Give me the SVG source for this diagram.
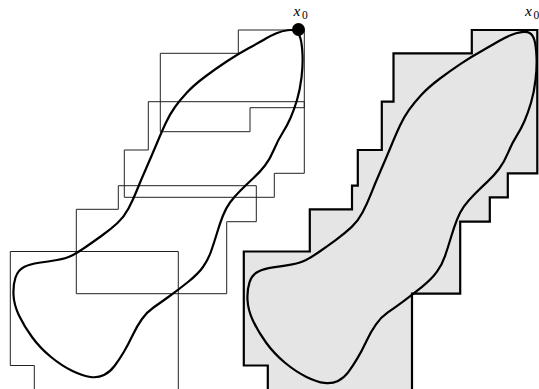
<svg xmlns="http://www.w3.org/2000/svg" xmlns:xlink="http://www.w3.org/1999/xlink" width="539" height="389" viewBox="0 0 539 389">
<style>
.box{fill:none;stroke:#222;stroke-width:1}
.union{fill:#e5e5e5;stroke:#000;stroke-width:2.2;stroke-linejoin:miter}
.curve{fill:none;stroke:#000;stroke-width:2.2;stroke-linejoin:round}
.lbl{font-family:"Liberation Serif",serif;font-style:italic;font-size:15.5px;fill:#000}
.sub{font-family:"Liberation Serif",serif;font-style:normal;font-size:11.5px;fill:#000}
</style>
<defs>
<path id="loop" d="M296,31.25 Q293,29.5 287.5,30.25 Q282,31 276.5,33.25 Q271,35.5 265.5,38.75 Q260,42 249,48 Q238,54 227,61.25 Q216,68.5 205,76.75 Q194,85 187,92.5 Q180,100 175,107 Q170,114 166,122.5 Q162,131 157,143 Q152,155 146.5,167.5 Q141,180 137,190 Q133,200 128.5,208.5 Q124,217 117.5,223 Q111,229 102,235.5 Q93,242 85,247.5 Q77,253 71.5,255.75 Q66,258.5 57,260 Q48,261.5 39,262.75 Q30,264 24,267 Q18,270 15.5,277.5 Q13,285 13.5,295 Q14,305 19,315.5 Q24,326 32,337 Q40,348 51,357 Q62,366 72.5,371 Q83,376 90.5,377 Q98,378 104,375 Q110,372 114.5,366 Q119,360 123.5,352.5 Q128,345 132.5,335.5 Q137,326 142,319 Q147,312 153.5,307.5 Q160,303 169,296.5 Q178,290 188,282 Q198,274 203,267 Q208,260 211,251.5 Q214,243 217,233 Q220,223 223,215.5 Q226,208 230,202.5 Q234,197 240.5,190.5 Q247,184 253.5,178 Q260,172 265,165.5 Q270,159 274,149.5 Q278,140 282.5,133 Q287,126 290.5,118 Q294,110 297,100 Q300,90 301.5,77.5 Q303,65 302.5,54.5 Q302,44 300.5,38.5 Q299,33 296,31.25 Z"/>
</defs>
<g id="left-figure">
<g id="cover-boxes">
<polygon id="box-a" class="box" points="238.3,30 304.3,30 304.3,107.7 250,107.7 250,131.7 160.3,131.7 160.3,53.3 238.3,53.3"/>
<polygon id="box-b" class="box" points="148.3,101.7 304.3,101.7 304.3,173.3 274.3,173.3 274.3,197.3 124.3,197.3 124.3,150 148.3,150"/>
<polygon id="box-c" class="box" points="118.3,185.7 256.3,185.7 256.3,221.7 226.7,221.7 226.7,293.7 76.3,293.7 76.3,209.3 118.3,209.3"/>
<polygon id="box-d" class="box" points="10.3,251.5 178.3,251.5 178.3,395 34.3,395 34.3,365.5 10.3,365.5"/>
</g>
<use id="curve-left" xlink:href="#loop" href="#loop" class="curve"/>
<circle id="x0-point" cx="298.5" cy="29.5" r="6.5" fill="#000"/>
<text id="x0-label-left" x="293.5" y="16" class="lbl">x<tspan class="sub" dx="1.5" dy="2.5">0</tspan></text>
</g>
<g id="right-figure">
<polygon id="union" class="union" points="471.8,30 537.3,30 537.3,173.3 507.8,173.3 507.8,197.3 489.8,197.3 489.8,221.7 460.2,221.7 460.2,293.7 412,293.7 412,395 267.8,395 267.8,365.5 243.8,365.5 243.8,251.5 309.8,251.5 309.8,209.3 352,209.3 352,185.7 357.8,185.7 357.8,150 381.8,150 381.8,101.7 393.5,101.7 393.5,53.3 471.8,53.3"/>
<use id="curve-right" xlink:href="#loop" href="#loop" class="curve" transform="translate(234,1.6) scale(1,1.0116)"/>
<text id="x0-label-right" x="525" y="16" class="lbl">x<tspan class="sub" dx="1.5" dy="2.5">0</tspan></text>
</g>
</svg>
